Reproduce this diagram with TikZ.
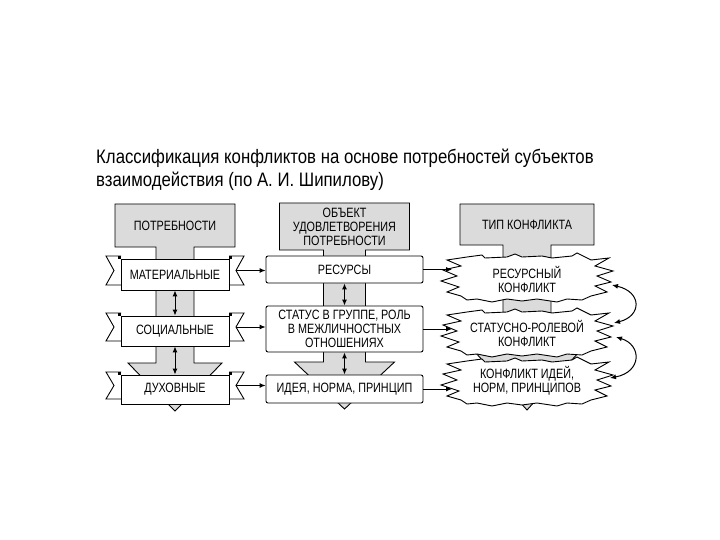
\documentclass[tikz,border=0pt]{standalone}
\usepackage{fontspec}
\setmainfont[FakeStretch=0.8]{Liberation Sans}
\newfontfamily\titlefont[FakeStretch=0.86]{Liberation Sans}
\usetikzlibrary{arrows.meta}
\definecolor{fillgray}{gray}{0.86}
\begin{document}
\begin{tikzpicture}[x=1pt,y=-1pt,
  lbl/.style={font=\fontsize{13.5}{14}\selectfont, align=center, inner sep=0pt},
  ttl/.style={font=\titlefont\fontsize{19.5}{23}\selectfont, anchor=base west, inner sep=0pt},
  grayshape/.style={draw, fill=fillgray, line width=0.9pt, line join=miter},
  boxone/.style={draw, fill=white, line width=0.9pt, minimum width=108pt, lbl},
  boxtwo/.style={draw, fill=white, line width=0.9pt, rounded corners=2pt, minimum width=157pt, lbl},
  tailst/.style={draw, fill=white, line width=0.9pt},
  cloudst/.style={draw, fill=white, line width=0.9pt, line join=miter},
  arr/.style={line width=0.9pt, -{Latex[length=6pt,width=5pt]}},
  dbl/.style={line width=1pt, {Latex[length=6pt,width=5pt]}-{Latex[length=6pt,width=5pt]}}
]
\useasboundingbox[fill=white] (0,0) rectangle (720,540);

% title
\node[ttl] (t1) at (96,164) {Классификация конфликтов на основе потребностей субъектов};
\node[ttl] (t2) at (96,187) {взаимодействия (по А. И. Шипилову)};

% gray header+arrow shapes
\draw[grayshape] (115,204) -- (235,204) -- (235,247) -- (194,247) -- (194,363) -- (222,363)
  -- (175,411) -- (128,363) -- (156,363) -- (156,247) -- (115,247) -- cycle;
\draw[grayshape] (279.5,203) -- (409.5,203) -- (409.5,250) -- (365.5,250) -- (365.5,362) -- (394.5,362)
  -- (344.5,409) -- (294.5,362) -- (323.5,362) -- (323.5,250) -- (279.5,250) -- cycle;
\draw[grayshape] (460,204) -- (594,204) -- (594,245) -- (551,245) -- (551,352) -- (579,352)
  -- (527,410) -- (475,352) -- (503,352) -- (503,245) -- (460,245) -- cycle;

\node[lbl] (h1) at (175,225.5) {ПОТРЕБНОСТИ};
\node[lbl] (h2) at (344.5,227) {ОБЪЕКТ\\УДОВЛЕТВОРЕНИЯ\\ПОТРЕБНОСТИ};
\node[lbl] (h3) at (527,224.5) {ТИП КОНФЛИКТА};

% ribbon tails, column 1
\draw[tailst] (121,256) -- (106,256) -- (114,270.5) -- (106,285) -- (121,285);
\draw[tailst] (229,256) -- (244,256) -- (236,270.5) -- (244,285) -- (229,285);
\fill (118,256) rectangle (121,259); \fill (229,256) rectangle (232,259);
\draw[tailst] (121,313) -- (106,313) -- (114,327) -- (106,341) -- (121,341);
\draw[tailst] (229,313) -- (244,313) -- (236,327) -- (244,341) -- (229,341);
\fill (118,313) rectangle (121,316); \fill (229,313) rectangle (232,316);
\draw[tailst] (121,372) -- (106,372) -- (114,385.5) -- (106,399) -- (121,399);
\draw[tailst] (229,372) -- (244,372) -- (236,385.5) -- (244,399) -- (229,399);
\fill (118,372) rectangle (121,375); \fill (229,372) rectangle (232,375);
\coordinate (n1) at (236,270.5);
\coordinate (n2) at (236,327);
\coordinate (n3) at (236,385.5);

% column 1 boxes
\node[boxone, minimum height=31pt] (m1) at (175,274.5) {МАТЕРИАЛЬНЫЕ};
\node[boxone, minimum height=30pt] (m2) at (175,331) {СОЦИАЛЬНЫЕ};
\node[boxone, minimum height=29pt] (m3) at (175,389.5) {ДУХОВНЫЕ};

% column 2 boxes
\node[boxtwo, minimum height=27pt] (r1) at (344.5,269.5) {РЕСУРСЫ};
\node[boxtwo, minimum height=46pt] (r2) at (344.5,329) {СТАТУС В ГРУППЕ, РОЛЬ\\В МЕЖЛИЧНОСТНЫХ\\ОТНОШЕНИЯХ};
\node[boxtwo, minimum height=28pt] (r3) at (344.5,389) {ИДЕЯ, НОРМА, ПРИНЦИП};

% clouds
\foreach \cy in {278, 333, 382}{
  \draw[cloudst, shift={(527,\cy)}]
    (-60,-21) -- (-45,-23) -- (-42,-20) -- (-20,-21) -- (-12,-24) -- (-5,-21) -- (15,-22) -- (25,-20)
    -- (45,-22) -- (50,-25) -- (58,-21)
    -- (64,-18) -- (82,-20) -- (68,-12) -- (86,-7) -- (70,-2) -- (84,4) -- (68,8) -- (80,14) -- (64,18)
    -- (55,22) -- (40,21) -- (30,24) -- (10,21) -- (-5,23) -- (-20,21) -- (-35,24) -- (-50,21) -- (-60,22)
    -- (-66,18) -- (-80,14) -- (-68,9) -- (-86,3) -- (-70,-2) -- (-84,-8) -- (-66,-12) -- (-80,-18) -- cycle;
}
\node[lbl] (c1) at (527,279) {РЕСУРСНЫЙ\\КОНФЛИКТ};
\node[lbl] (c2) at (527,333) {СТАТУСНО-РОЛЕВОЙ\\КОНФЛИКТ};
\node[lbl] (c3) at (527,381) {КОНФЛИКТ ИДЕЙ,\\НОРМ, ПРИНЦИПОВ};
\coordinate (c1in) at (452,269.5);
\coordinate (c2in) at (452,329);
\coordinate (c3in) at (452,389);

% horizontal arrows
\draw[arr] (n1) -- (n1 -| r1.west);
\draw[arr] (n2) -- (n2 -| r2.west);
\draw[arr] (n3) -- (n3 -| r3.west);
\draw[arr] (r1.east) -- (c1in);
\draw[arr] (r2.east) -- (c2in);
\draw[arr] (r3.east) -- (c3in);

% vertical double arrows
\draw[dbl] (m1.south) -- (m2.north);
\draw[dbl] (m2.south) -- (m3.north);
\draw[dbl] (r1.south) -- (r2.north);
\draw[dbl] (r2.south) -- (r3.north);

% curved double arrows
\coordinate (a1s) at (612,285);
\coordinate (a1e) at (614,323);
\coordinate (a2s) at (616,337);
\coordinate (a2e) at (610,378);
\draw[dbl] (a1s) .. controls (642,292) and (642,316) .. (a1e);
\draw[dbl] (a2s) .. controls (642,345) and (642,372) .. (a2e);
\end{tikzpicture}
\end{document}
